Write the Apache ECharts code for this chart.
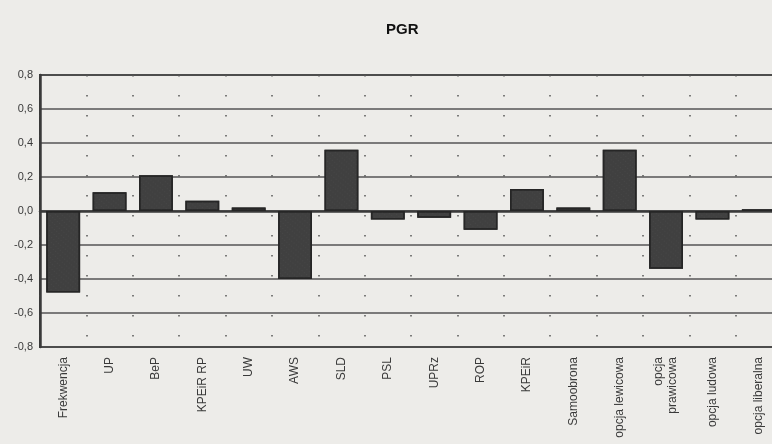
<!DOCTYPE html>
<html>
<head>
<meta charset="utf-8">
<script src="https://cdn.jsdelivr.net/npm/echarts@6/dist/echarts.min.js"></script>
<style>
html,body{margin:0;padding:0;background:#edece9;overflow:hidden;}
#c{width:800px;height:444px;}
</style>
</head>
<body>
<div id="c"></div>
<script>
const categories = ['Frekwencja','UP','BeP','KPEiR RP','UW','AWS','SLD','PSL','UPRz','ROP','KPEiR','Samoobrona','opcja lewicowa','opcja\nprawicowa','opcja ludowa','opcja liberalna'];
const values = [-0.48, 0.11, 0.21, 0.06, 0.02, -0.40, 0.36, -0.05, -0.04, -0.11, 0.13, 0.02, 0.36, -0.34, -0.05, 0.01];
const yTicks = [-0.8, -0.6, -0.4, -0.2, 0.0, 0.2, 0.4, 0.6, 0.8];

const chart = echarts.init(document.getElementById('c'));
chart.setOption({
  backgroundColor: '#edece9',
  animation: false,
  title: {
    text: 'PGR', left: 381, top: 17,
    textStyle: {fontFamily: 'Liberation Sans, Arial', fontWeight: 'bold', fontSize: 15, color: '#111'}
  },
  grid: {left: 40, top: 75, right: 18, height: 272, show: true, borderColor: '#3a3a3a', borderWidth: 2, backgroundColor: 'transparent'},
  xAxis: {
    type: 'category', data: categories,
    axisLine: {show: true, lineStyle: {color: '#3a3a3a', width: 2.5}},
    axisTick: {show: false},
    splitLine: {show: true, interval: 0, lineStyle: {color: '#555', width: 1.5, type: [1.5, 18.5], dashOffset: 0}},
    axisLabel: {rotate: 90, interval: 0, margin: 10, fontSize: 12, color: '#3a3a3a', fontFamily: 'Liberation Sans, Arial', lineHeight: 14}
  },
  yAxis: {
    type: 'value', min: -0.8, max: 0.8, interval: 0.2,
    axisLine: {show: true, lineStyle: {color: '#3a3a3a', width: 2.5}},
    axisTick: {show: false},
    splitLine: {show: true, lineStyle: {color: '#555', width: 1.5}},
    axisLabel: {fontSize: 11, color: '#3a3a3a', margin: 7, fontFamily: 'Liberation Sans, Arial',
      formatter: v => { const t = yTicks.find(x => Math.abs(x - v) < 1e-9); return (t !== undefined ? t : v).toFixed(1).replace('.', ','); }}
  },
  series: [{
    type: 'bar', data: values, barCategoryGap: '27%',
    itemStyle: {color: '#404040', borderColor: '#262626', borderWidth: 1.5,
      decal: {symbol: 'rect', symbolSize: 0.6, color: 'rgba(110,110,110,0.5)', dashArrayX: [1, 2], dashArrayY: [1, 3], rotation: 0.7}}
  }],
  aria: {enabled: true, decal: {show: true}}
});
</script>
</body>
</html>
